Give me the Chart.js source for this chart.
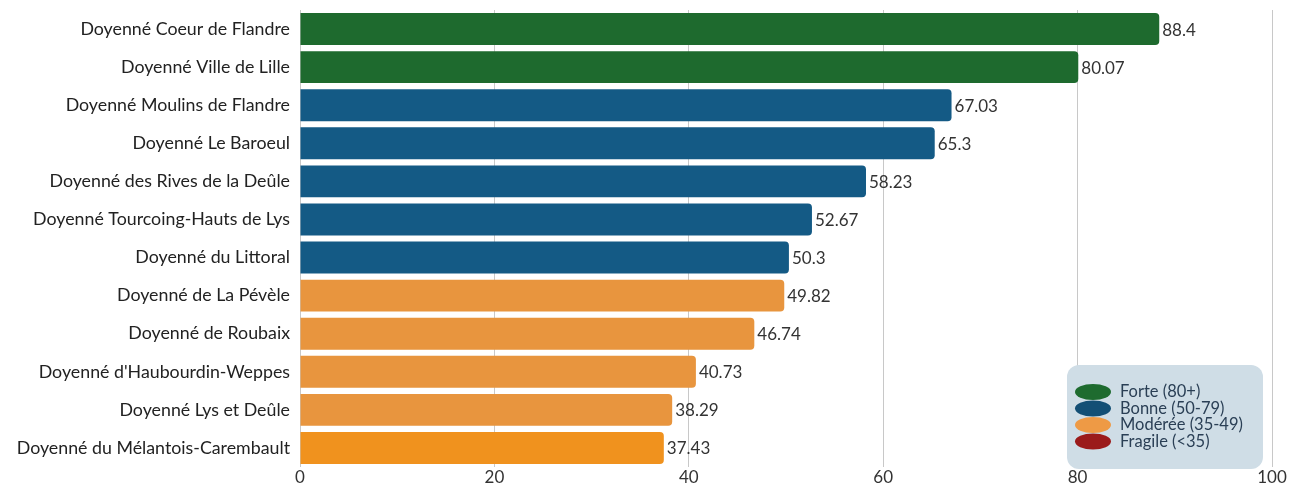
<!DOCTYPE html>
<html>
<head>
<meta charset="utf-8">
<script src="https://cdn.jsdelivr.net/npm/chart.js@4"></script>
<style>
  html, body { margin: 0; padding: 0; background: #fff; }
  #wrap { width: 1291px; height: 487px; position: relative; }
</style>
</head>
<body>
<div id="wrap"><canvas id="chart"></canvas></div>
<script>
// data
const doyennes = [
  "Doyenné Coeur de Flandre",
  "Doyenné Ville de Lille",
  "Doyenné Moulins de Flandre",
  "Doyenné Le Baroeul",
  "Doyenné des Rives de la Deûle",
  "Doyenné Tourcoing-Hauts de Lys",
  "Doyenné du Littoral",
  "Doyenné de La Pévèle",
  "Doyenné de Roubaix",
  "Doyenné d'Haubourdin-Weppes",
  "Doyenné Lys et Deûle",
  "Doyenné du Mélantois-Carembault"
];
const scores = [88.4, 80.07, 67.03, 65.3, 58.23, 52.67, 50.3, 49.82, 46.74, 40.73, 38.29, 37.43];
const xTicks = [0, 20, 40, 60, 80, 100];

const legendLabels = ["Forte (80+)", "Bonne (50-79)", "Modérée (35-49)", "Fragile (<35)"];
const legendColors = ["#1e6b2f", "#134f75", "#ee9a45", "#9b1b1b"];

const barColors = [
  "#1e6a2e", "#1e6a2e",
  "#145a85", "#145a85", "#145a85", "#145a85", "#145a85",
  "#e8953e", "#e8953e", "#e8953e", "#e8953e",
  "#f0921e"
];

// value labels at the end of each bar
const valueLabels = {
  id: "valueLabels",
  afterDatasetsDraw(chart) {
    const ctx = chart.ctx;
    const meta = chart.getDatasetMeta(0);
    ctx.save();
    ctx.font = "17px Lato";
    ctx.fillStyle = "#333";
    ctx.textBaseline = "middle";
    ctx.textAlign = "left";
    meta.data.forEach((bar, i) => {
      ctx.fillText(String(scores[i]), bar.x + 3, bar.y + 1);
    });
    ctx.restore();
  }
};

// custom legend box, bottom right
const boxLegend = {
  id: "boxLegend",
  afterDraw(chart) {
    const ctx = chart.ctx;
    const x = 1067, y = 365, w = 196, h = 104;
    ctx.save();
    ctx.fillStyle = "#cfdde6";
    ctx.beginPath();
    ctx.roundRect(x, y, w, h, 12);
    ctx.fill();
    ctx.font = "16.5px Lato";
    ctx.textBaseline = "middle";
    legendLabels.forEach((lab, i) => {
      const cy = y + 27 + i * 16.5;
      ctx.fillStyle = legendColors[i];
      ctx.beginPath();
      ctx.ellipse(x + 26, cy, 18, 8, 0, 0, Math.PI * 2);
      ctx.fill();
      ctx.fillStyle = "#2a3f55";
      ctx.fillText(lab, x + 53, cy);
    });
    ctx.restore();
  }
};

new Chart(document.getElementById("chart"), {
  type: "bar",
  data: {
    labels: doyennes,
    datasets: [{
      data: scores,
      backgroundColor: barColors,
      borderRadius: { topRight: 4, bottomRight: 4 },
      borderSkipped: "left",
      barPercentage: 0.84,
      categoryPercentage: 1
    }]
  },
  options: {
    indexAxis: "y",
    responsive: true,
    maintainAspectRatio: false,
    animation: { duration: 0 },
    layout: { padding: { top: 10, right: 19, left: 0, bottom: 0 } },
    plugins: {
      legend: { display: false },
      tooltip: { enabled: false }
    },
    scales: {
      x: {
        min: 0,
        max: 100,
        afterBuildTicks: (scale) => { scale.ticks = xTicks.map(v => ({ value: v })); },
        afterFit: (scale) => {
          scale.height = 20;
          scale.paddingLeft = 0;
          scale.paddingRight = 0;
        },
        grid: { color: "#c8c8c8", lineWidth: 1, drawTicks: false },
        border: { display: false },
        ticks: { padding: 0, font: { family: "Lato", size: 17 }, color: "#333" }
      },
      y: {
        afterFit: (scale) => {
          scale.width = 300;
          scale.paddingTop = 0;
          scale.paddingBottom = 0;
        },
        grid: { display: false, drawTicks: false },
        border: { display: false },
        ticks: { padding: 10, font: { family: "Lato", size: 17.8 }, color: "#222" }
      }
    }
  },
  plugins: [valueLabels, boxLegend]
});
</script>
</body>
</html>
